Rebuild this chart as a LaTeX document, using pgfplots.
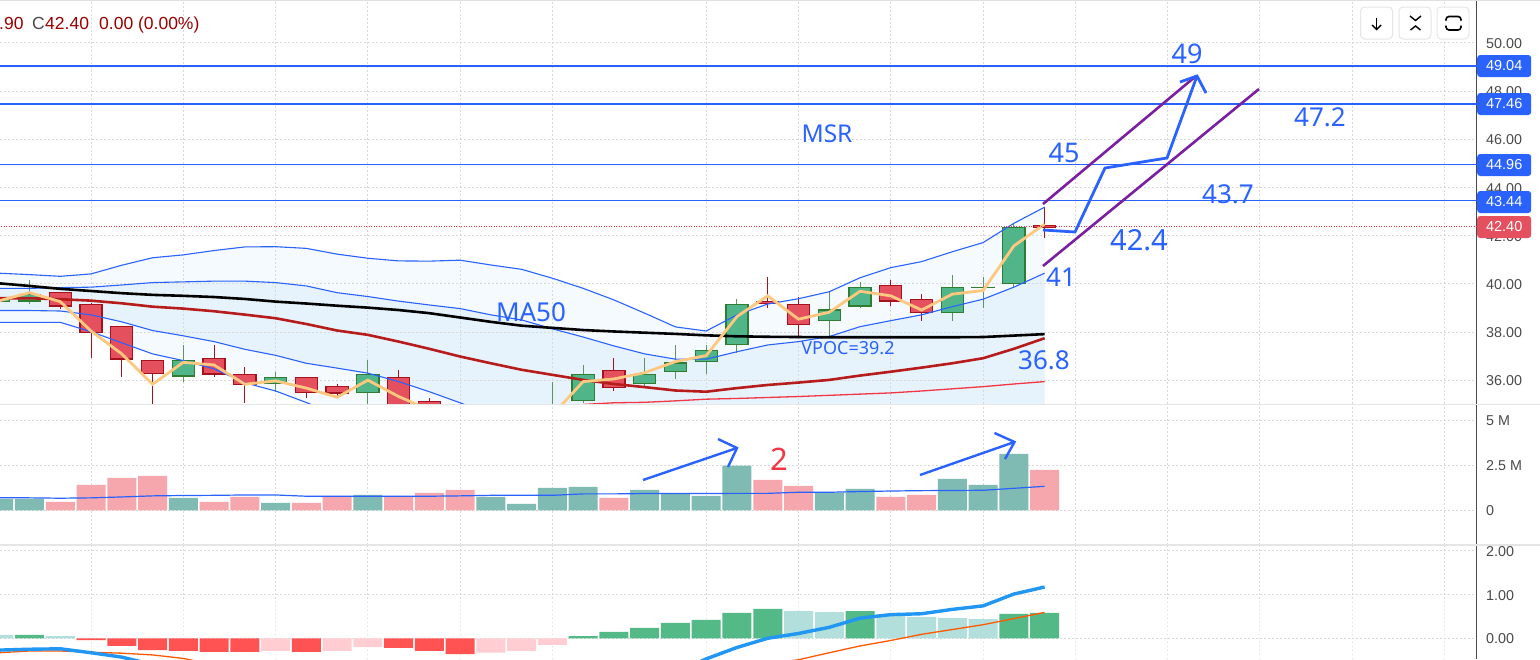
\documentclass[border=0pt]{standalone}
\usepackage{pgfplots}
\usepackage{pgfplotstable}
\pgfplotsset{compat=1.18}
\usepackage{fontspec}
\setmainfont{Liberation Sans}
\newfontfamily\ann{Noto Sans}
\definecolor{tvblue}{HTML}{2962FF}
\definecolor{bandfill}{HTML}{2196F3}
\definecolor{bandl}{HTML}{F4FAFE}
\definecolor{bandd}{HTML}{E7F3FC}
\definecolor{rb}{HTML}{A5111C}
\definecolor{rf}{HTML}{E5505F}
\definecolor{gb}{HTML}{2E7D32}
\definecolor{gf}{HTML}{50B68A}
\definecolor{gw}{HTML}{5E9462}
\definecolor{volg}{HTML}{7FBBB2}
\definecolor{volr}{HTML}{F6A6AD}
\definecolor{hg}{HTML}{53B987}
\definecolor{hgl}{HTML}{B2DFDB}
\definecolor{hr}{HTML}{FF5252}
\definecolor{hrl}{HTML}{FFCDD2}
\definecolor{yel}{HTML}{FFC880}
\definecolor{purp}{HTML}{7B1FA2}
\definecolor{axc}{HTML}{4A4A4A}
\definecolor{lg}{HTML}{990000}
\definecolor{tvred}{HTML}{F23645}
\definecolor{marow}{HTML}{B71C1C}

% candles: i low high bodylow bodyhigh
\pgfplotstableread{
i wlo whi blo bhi
-1 39.20 39.50 39.26 39.37
0 39.16 40.16 39.26 39.57
5 35.94 37.46 36.15 36.83
8 35.52 36.33 35.83 36.12
11 34.97 36.84 35.46 36.25
15 33.40 34.40 33.60 34.20
16 33.50 34.50 33.80 34.30
17 34.00 35.94 34.30 34.80
18 35.06 36.63 35.13 36.25
20 35.73 36.91 35.83 36.25
21 36.05 37.46 36.35 36.74
22 36.26 37.46 36.74 37.24
23 37.12 39.37 37.45 39.15
26 37.84 39.65 38.45 38.94
27 39.00 40.09 39.05 39.86
30 38.47 40.35 38.78 39.86
31 38.99 40.27 39.85 39.87
32 39.81 42.48 39.98 42.35
}\tabgreen
\pgfplotstableread{
i wlo whi blo bhi
1 38.96 39.66 39.05 39.65
2 36.94 39.20 37.95 39.15
3 36.15 38.25 36.85 38.24
4 34.77 36.84 36.25 36.83
6 36.15 37.46 36.23 36.91
7 35.06 36.55 35.81 36.25
9 35.25 36.14 35.46 36.12
10 35.25 35.84 35.44 35.75
12 34.35 36.42 34.77 36.12
13 34.00 35.26 34.30 35.13
14 33.60 34.60 33.90 34.50
19 35.57 36.91 35.67 36.41
24 38.99 40.27 39.15 39.28
25 37.84 39.44 38.28 39.15
28 39.09 40.16 39.26 39.94
29 38.47 39.58 38.78 39.36
33 41.89 43.17 42.33 42.44
}\tabred

% a,b,c,d = envelope lines; ma = black; mr = dark red; y = yellow close line
\pgfplotstableread{
i a b c d ma mr y
-1 40.44 39.81 38.89 38.40 40.02 39.40 39.29
0 40.38 39.81 38.89 38.40 39.91 39.40 39.63
1 40.31 39.84 38.87 38.40 39.79 39.36 39.26
2 40.41 39.86 38.71 38.01 39.70 39.30 38.04
3 40.77 39.95 38.42 37.55 39.61 39.19 37.09
4 41.08 40.05 38.06 37.09 39.54 39.05 35.83
5 41.20 40.08 37.84 36.81 39.50 38.97 36.74
6 41.38 40.11 37.60 36.47 39.45 38.86 36.63
7 41.53 40.11 37.28 35.89 39.37 38.72 35.83
8 41.54 40.05 37.03 35.55 39.26 38.57 35.97
9 41.47 39.91 36.70 35.07 39.18 38.33 35.67
10 41.23 39.63 36.50 34.56 39.09 38.06 35.29
11 41.06 39.47 36.29 34.20 39.01 37.88 36.00
12 40.95 39.28 35.94 33.90 38.91 37.60 35.32
13 40.94 39.12 35.52 33.60 38.78 37.30 34.77
14 40.98 38.97 35.06 33.30 38.60 36.98 34.40
15 40.78 38.71 34.56 33.00 38.42 36.70 34.20
16 40.60 38.50 34.20 32.80 38.26 36.43 34.30
17 40.23 38.13 34.00 32.60 38.17 36.22 34.56
18 39.81 37.79 33.80 32.40 38.08 36.01 35.94
19 39.33 37.42 33.60 32.30 38.02 35.84 36.05
20 38.78 37.09 33.50 32.20 37.97 35.71 36.31
21 38.21 36.87 33.50 32.20 37.92 35.57 36.77
22 38.04 36.87 33.50 32.20 37.86 35.52 37.02
23 38.71 37.18 33.50 32.20 37.82 35.67 38.64
24 39.16 37.46 33.60 32.30 37.80 35.80 39.50
25 39.38 37.60 33.70 32.40 37.79 35.90 38.53
26 39.67 37.81 33.80 32.50 37.78 36.01 38.82
27 40.25 38.22 33.90 32.60 37.78 36.19 39.69
28 40.67 38.47 34.00 32.70 37.78 36.35 39.50
29 40.92 38.71 34.10 32.80 37.78 36.52 38.91
30 41.33 39.05 34.20 32.90 37.78 36.70 39.57
31 41.71 39.36 34.30 33.00 37.79 36.91 39.72
32 42.51 39.86 34.40 33.00 37.85 37.30 41.57
33 43.18 40.44 34.50 33.00 37.91 37.74 42.48
}\tabprice

\pgfplotstableread{
i v
-1 0.63
0 0.63
5 0.69
8 0.41
11 0.85
15 0.74
16 0.35
17 1.24
18 1.30
20 1.13
21 0.93
22 0.80
23 2.48
26 0.96
27 1.19
30 1.74
31 1.41
32 3.13
}\tabvolg
\pgfplotstableread{
i v
1 0.46
2 1.41
3 1.80
4 1.91
6 0.46
7 0.74
9 0.41
10 0.74
12 0.74
13 0.96
14 1.13
19 0.69
24 1.69
25 1.35
28 0.74
29 0.85
33 2.24
}\tabvolr
\pgfplotstableread{
i h
0 0.08
18 0.05
19 0.145
20 0.235
21 0.35
22 0.42
23 0.58
24 0.67
27 0.62
32 0.555
33 0.58
}\tabhg
\pgfplotstableread{
i h
-1 0.08
1 0.05
25 0.62
26 0.60
28 0.555
29 0.49
30 0.46
31 0.44
}\tabhgl
\pgfplotstableread{
i h
2 -0.04
3 -0.175
4 -0.27
5 -0.29
6 -0.31
7 -0.31
9 -0.31
12 -0.22
13 -0.29
14 -0.36
}\tabhr
\pgfplotstableread{
i h
8 -0.29
10 -0.29
11 -0.20
15 -0.33
16 -0.29
17 -0.15
}\tabhrl

\newcommand{\candles}[4]{%
 \addplot[draw=none,forget plot,error bars/.cd,y dir=plus,y explicit,error mark=none,error bar style={draw=#4,line width=1pt}] table[x=i,y=wlo,y error plus expr={\thisrow{whi}-\thisrow{wlo}}]{#1};
 \addplot[draw=none,forget plot,error bars/.cd,y dir=plus,y explicit,error mark=none,error bar style={draw=#2,line width=23.4pt}] table[x=i,y=blo,y error plus expr={\thisrow{bhi}-\thisrow{blo}+0.01}]{#1};
 \addplot[draw=none,forget plot,error bars/.cd,y dir=plus,y explicit,error mark=none,error bar style={draw=#3,line width=20.8pt}] table[x=i,y expr={\thisrow{blo}+0.05},y error plus expr={max(\thisrow{bhi}-\thisrow{blo}-0.1,0)}]{#1};
}
\newcommand{\an}[3]{\node[text=tvblue,inner sep=0pt,font=\ann\fontsize{#3}{#3}\selectfont] at (axis cs:#1) {#2};}
\newcommand{\ptag}[3]{\node[fill=#3,rounded corners=3pt,text=white,anchor=west,minimum width=54pt,minimum height=22pt,inner sep=0pt,font=\fontsize{14.5}{15}\selectfont] at (axis cs:1477,#1) {#2};}
\newcommand{\btn}[1]{\draw[draw=black!10,fill=white,line width=1pt,rounded corners=4pt] (axis cs:#1,7) rectangle (axis cs:#1+32,39);}
\pgfplotsset{
 panel/.style={
  scale only axis,width=1477pt,anchor=south west,
  xmin=-0.959,xmax=47.057,
  axis y line=right,axis x line=bottom,
  axis line style={-,draw=axc,line width=1pt},
  x axis line style={draw=none},
  xtick={2,5,8,11,14,17,22,25,28,31,34,37,40,43,46},
  xticklabels={},
  major tick length=0pt,
  grid=major,
  grid style={draw=black!15,line width=0.9pt,dash pattern=on 1.5pt off 2.5pt},
  tick label style={font=\fontsize{14.3}{15}\selectfont,text=axc,inner sep=0pt},
  yticklabel style={anchor=west,xshift=9pt,yshift=-0.7pt},
  clip=true,
 }
}
\begin{document}
\begin{tikzpicture}[x=1pt,y=1pt]
\path[use as bounding box,fill=white] (0,0) rectangle (1540,659);

% ---------- price panel: band fills, painted from top to bottom
\begin{axis}[scale only axis,width=1477pt,height=404pt,at={(0pt,255pt)},anchor=south west,
 xmin=-0.959,xmax=47.057,ymin=35.01,ymax=51.78,hide axis]
 \addplot[fill=bandl,draw=none] table[x=i,y=a]{\tabprice} \closedcycle;
 \addplot[fill=bandd,draw=none] table[x=i,y=b]{\tabprice} \closedcycle;
 \addplot[fill=bandl,draw=none] table[x=i,y=c]{\tabprice} \closedcycle;
 \addplot[fill=white,draw=none] table[x=i,y=d]{\tabprice} \closedcycle;
\end{axis}

% ---------- price panel
\begin{axis}[panel,at={(0pt,255pt)},height=404pt,
 ymin=35.01,ymax=51.78,
 ytick={36,38,40,42,44,46,48,50},
 /pgf/number format/.cd,fixed,fixed zerofill,precision=2,assume math mode=true]
 \candles{\tabgreen}{gb}{gf}{gw}
 \candles{\tabred}{rb}{rf}{rb}
 \addplot[tvblue,line width=1.1pt] table[x=i,y=a]{\tabprice};
 \addplot[tvblue,line width=1.1pt] table[x=i,y=b]{\tabprice};
 \addplot[tvblue,line width=1.1pt] table[x=i,y=c]{\tabprice};
 \addplot[tvblue,line width=1.1pt] table[x=i,y=d]{\tabprice};
 \addplot[color=tvred,line width=1.3pt] coordinates {(18,34.99)(19,35.06)(20,35.08)(21,35.14)(22,35.21)(23,35.24)(24,35.28)(25,35.32)(26,35.37)(27,35.42)(28,35.47)(29,35.55)(30,35.64)(31,35.73)(32,35.84)(33,35.94)};
 \addplot[color=marow,line width=2.6pt] table[x=i,y=mr]{\tabprice};
 \addplot[black,line width=2.6pt] table[x=i,y=ma]{\tabprice};
 \addplot[yel,line width=2.8pt] table[x=i,y=y]{\tabprice};
 \addplot[color=tvred,line width=0.9pt,dash pattern=on 1pt off 1.5pt] coordinates {(-1,42.40)(47.1,42.40)};
 \addplot[tvblue,line width=2pt] coordinates {(-1,49.04)(47.1,49.04)};
 \addplot[tvblue,line width=2pt] coordinates {(-1,47.46)(47.1,47.46)};
 \addplot[tvblue,line width=1.1pt] coordinates {(-1,44.96)(47.1,44.96)};
 \addplot[tvblue,line width=1.1pt] coordinates {(-1,43.44)(47.1,43.44)};
\end{axis}

% ---------- volume panel
\begin{axis}[panel,at={(0pt,114pt)},height=140pt,
 ymin=-1.93,ymax=5.85,
 ytick={0,2.5,5},yticklabels={0,2.5 M,5 M}]
 \addplot[ybar,bar width=29pt,bar shift=0pt,fill=volg,draw=none] table[x=i,y=v]{\tabvolg};
 \addplot[ybar,bar width=29pt,bar shift=0pt,fill=volr,draw=none] table[x=i,y=v]{\tabvolr};
 \addplot[tvblue,line width=1.2pt] coordinates {(-1,0.70)(0,0.69)(1,0.67)(2,0.69)(3,0.74)(4,0.80)(5,0.82)(6,0.83)(7,0.85)(8,0.85)(9,0.78)(10,0.78)(11,0.78)(12,0.78)(13,0.78)(14,0.80)(15,0.83)(16,0.83)(17,0.83)(18,0.91)(19,0.91)(20,0.93)(21,0.93)(22,0.93)(23,0.94)(24,0.94)(25,1.00)(26,1.00)(27,1.04)(28,1.07)(29,1.09)(30,1.10)(31,1.11)(32,1.22)(33,1.33)};
\end{axis}

% ---------- MACD panel
\begin{axis}[panel,at={(0pt,0pt)},height=113pt,
 ymin=-0.473,ymax=2.107,
 ytick={0,1,2},
 /pgf/number format/.cd,fixed,fixed zerofill,precision=2,assume math mode=true]
 \addplot[ybar,bar width=29pt,bar shift=0pt,fill=hg,draw=none] table[x=i,y=h]{\tabhg};
 \addplot[ybar,bar width=29pt,bar shift=0pt,fill=hgl,draw=none] table[x=i,y=h]{\tabhgl};
 \addplot[ybar,bar width=29pt,bar shift=0pt,fill=hr,draw=none] table[x=i,y=h]{\tabhr};
 \addplot[ybar,bar width=29pt,bar shift=0pt,fill=hrl,draw=none] table[x=i,y=h]{\tabhrl};
 \addplot[color=orange!70!red,line width=1.3pt] coordinates {(-1,-0.33)(0,-0.29)(1,-0.29)(2,-0.32)(3,-0.34)(4,-0.38)(5,-0.46)(6,-0.60)(10,-0.90)(15,-1.05)(20,-0.95)(24,-0.58)(25,-0.49)(26,-0.33)(27,-0.175)(28,-0.05)(29,0.09)(30,0.20)(31,0.31)(32,0.45)(33,0.59)};
 \addplot[color=bandfill,line width=3.4pt] coordinates {(-1,-0.27)(0,-0.25)(1,-0.24)(2,-0.33)(3,-0.43)(4,-0.60)(5,-0.75)(6,-0.90)(7,-1.05)(8,-1.10)(9,-1.15)(10,-1.20)(11,-1.25)(12,-1.30)(13,-1.40)(14,-1.50)(15,-1.50)(16,-1.45)(17,-1.35)(18,-1.30)(19,-1.20)(20,-1.05)(21,-0.80)(22,-0.47)(23,-0.21)(24,0.00)(25,0.11)(26,0.25)(27,0.46)(28,0.54)(29,0.56)(30,0.66)(31,0.74)(32,1.01)(33,1.17)};
\end{axis}

% ---------- annotation layer, in picture pixels
\begin{axis}[scale only axis,width=1540pt,height=659pt,at={(0pt,0pt)},anchor=south west,
 xmin=0,xmax=1540,ymin=0,ymax=659,y dir=reverse,hide axis,clip=false]
 % separators
 \addplot[color=black!10,line width=1.5pt] coordinates {(0,404.5)(1540,404.5)};
 \addplot[color=black!10,line width=1.5pt] coordinates {(0,545)(1540,545)};
 \addplot[color=black!12,line width=1pt] coordinates {(0,0.5)(1540,0.5)};
 % hand-drawn channel and path
 \addplot[purp,line width=2.6pt] coordinates {(1043,204)(1196,76)};
 \addplot[purp,line width=2.6pt] coordinates {(1043,266)(1259,89)};
 \addplot[color=tvblue,line width=2.8pt] coordinates {(1043,230)(1075,232)(1105,168)(1167,158)(1197,76)};
 \addplot[color=tvblue,line width=2.8pt] coordinates {(1180,82)(1197,76)(1206,93)};
 % volume arrows
 \addplot[tvblue,line width=2.4pt] coordinates {(643,480)(737,448)};
 \addplot[tvblue,line width=2.4pt] coordinates {(718,439)(737,448)(728,467)};
 \addplot[tvblue,line width=2.4pt] coordinates {(920,475)(1014.5,442)};
 \addplot[tvblue,line width=2.4pt] coordinates {(994.5,433)(1014.5,442)(1005,459)};
 % texts
 \an{1187,54}{49}{27}
 \an{1064,153}{45}{27}
 \an{827,134}{MSR}{24.5}
 \an{1228,194}{43.7}{26}
 \an{1320,117}{47.2}{26}
 \an{1139,240}{42.4}{29}
 \an{1061,277}{41}{26}
 \an{1044,360}{36.8}{26}
 \an{531,312}{MA50}{26}
 \an{848,348}{VPOC=39.2}{18}
 \node[text=tvred,inner sep=0pt,font=\ann\fontsize{31}{31}\selectfont] at (axis cs:779,459) {2};
 % legend line at the top
 \node[anchor=base west,inner sep=0pt,font=\fontsize{17.5}{18}\selectfont,text=lg] at (axis cs:-1,29) {.90};
 \node[anchor=base west,inner sep=0pt,font=\fontsize{17.5}{18}\selectfont,text=axc] at (axis cs:32,29) {C};
 \node[anchor=base west,inner sep=0pt,font=\fontsize{17.5}{18}\selectfont,text=lg] at (axis cs:45,29) {42.40};
 \node[anchor=base west,inner sep=0pt,font=\fontsize{17.5}{18}\selectfont,text=lg] at (axis cs:99,29) {0.00 (0.00\%)};
 % price tags
 \ptag{66}{49.04}{tvblue}
 \ptag{104}{47.46}{tvblue}
 \ptag{165}{44.96}{tvblue}
 \ptag{202}{43.44}{tvblue}
 \ptag{227}{42.40}{rf}
 % buttons
 \btn{1360.5}
 \btn{1399}
 \btn{1437}
 \draw[black,line width=1.4pt] (axis cs:1376.5,17.5)--(axis cs:1376.5,29.5);
 \draw[black,line width=1.4pt] (axis cs:1372,25)--(axis cs:1376.5,29.5)--(axis cs:1381,25);
 \draw[black,line width=1.4pt] (axis cs:1410,16)--(axis cs:1415.5,20.5)--(axis cs:1421,16);
 \draw[black,line width=1.4pt] (axis cs:1410.5,30)--(axis cs:1415.5,26)--(axis cs:1420.5,30);
 \draw[black,line width=1.6pt,rounded corners=3pt] (axis cs:1446,20.5)--(axis cs:1446,16.5)--(axis cs:1461,16.5)--(axis cs:1461,20.5);
 \draw[black,line width=1.6pt,rounded corners=3pt] (axis cs:1446,25.5)--(axis cs:1446,30)--(axis cs:1461,30)--(axis cs:1461,25.5);
\end{axis}
\end{tikzpicture}
\end{document}
